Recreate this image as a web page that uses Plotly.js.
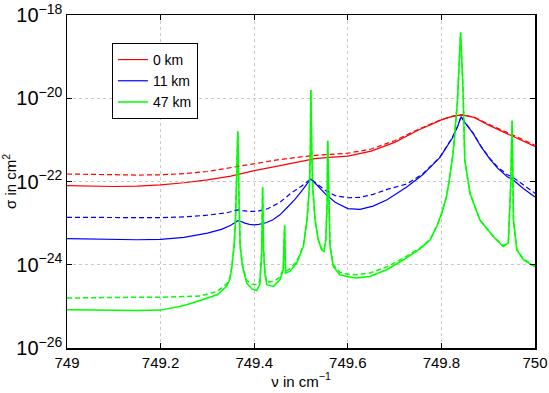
<!DOCTYPE html>
<html>
<head>
<meta charset="utf-8">
<script src="https://cdn.plot.ly/plotly-3.0.1.min.js"></script>
<style>html,body{margin:0;padding:0;background:#fff;}#chart{width:549px;height:393px;}</style>
</head>
<body>
<div id="chart"></div>
<script>
// log10 of cross section values
var nuRed = [749.0,749.05,749.1,749.15,749.2,749.25,749.3,749.35,749.4,749.45,749.5,749.53,749.56,749.6,749.65,749.7,749.75,749.8,749.825,749.844,749.87,749.9,749.95,750.0];
var redSolid = [-22.10,-22.115,-22.12,-22.11,-22.08,-22.03,-21.96,-21.87,-21.74,-21.63,-21.51,-21.45,-21.42,-21.39,-21.27,-21.06,-20.77,-20.52,-20.43,-20.40,-20.46,-20.64,-20.90,-21.16];
var redDashed = [-21.82,-21.83,-21.84,-21.845,-21.84,-21.81,-21.76,-21.67,-21.57,-21.48,-21.41,-21.37,-21.35,-21.32,-21.22,-21.02,-20.75,-20.51,-20.43,-20.40,-20.455,-20.62,-20.87,-21.13];

var nuBlue = [749.0,749.05,749.1,749.15,749.2,749.25,749.3,749.33,749.35,749.36,749.365,749.372,749.38,749.39,749.40,749.41,749.425,749.44,749.455,749.47,749.487,749.5,749.51,749.521,749.532,749.543,749.553,749.573,749.6,749.626,749.654,749.684,749.726,749.76,749.797,749.823,749.835,749.842,749.85,749.868,749.885,749.904,749.92,749.94,749.953,749.975,750.0];
var blueSolid = [-23.37,-23.385,-23.39,-23.40,-23.39,-23.34,-23.24,-23.15,-23.05,-22.98,-22.94,-22.96,-23.00,-23.03,-23.04,-23.03,-22.99,-22.92,-22.80,-22.63,-22.43,-22.25,-22.09,-21.94,-22.06,-22.20,-22.31,-22.50,-22.65,-22.67,-22.59,-22.44,-22.13,-21.84,-21.42,-20.96,-20.67,-20.44,-20.58,-20.85,-21.17,-21.47,-21.68,-21.88,-21.96,-22.17,-22.37];
var nuBlueD = [749.0,749.1,749.2,749.25,749.3,749.342,749.358,749.365,749.375,749.39,749.405,749.43,749.455,749.48,749.5,749.51,749.521,749.532,749.553,749.573,749.6,749.626,749.654,749.684,749.726,749.76,749.797,749.823,749.835,749.842,749.85,749.868,749.885,749.904,749.92,749.94,749.953,749.975,750.0];
var blueDashed = [-22.86,-22.87,-22.87,-22.85,-22.81,-22.75,-22.70,-22.68,-22.70,-22.72,-22.72,-22.65,-22.50,-22.27,-22.12,-22.03,-21.94,-22.04,-22.22,-22.34,-22.39,-22.38,-22.31,-22.19,-22.06,-21.82,-21.41,-20.95,-20.67,-20.44,-20.58,-20.84,-21.16,-21.45,-21.65,-21.83,-21.90,-22.08,-22.28];

var nuGreen = [749.000,749.050,749.100,749.150,749.200,749.250,749.284,749.321,749.341,749.348,749.352,749.357,749.360,749.363,749.365,749.367,749.370,749.375,749.384,749.395,749.405,749.412,749.416,749.418,749.420,749.423,749.427,749.441,749.455,749.462,749.465,749.467,749.476,749.491,749.505,749.513,749.518,749.520,749.521,749.523,749.525,749.530,749.537,749.544,749.549,749.553,749.556,749.557,749.559,749.562,749.569,749.583,749.598,749.619,749.647,749.683,749.719,749.754,749.776,749.790,749.801,749.811,749.818,749.825,749.834,749.838,749.841,749.846,749.850,749.861,749.872,749.882,749.897,749.911,749.932,749.943,749.948,749.951,749.954,749.961,749.975,750.000];
var greenSolid = [-25.08,-25.09,-25.10,-25.10,-25.09,-24.98,-24.86,-24.72,-24.52,-24.35,-24.08,-23.56,-22.92,-21.72,-20.80,-22.12,-23.56,-24.04,-24.44,-24.58,-24.62,-24.48,-23.71,-22.14,-23.64,-24.24,-24.48,-24.52,-24.36,-24.12,-23.06,-24.20,-24.16,-23.96,-23.56,-22.92,-22.12,-21.24,-19.80,-21.24,-22.12,-22.92,-23.40,-23.64,-23.68,-23.40,-22.44,-21.02,-22.44,-23.56,-24.04,-24.24,-24.28,-24.32,-24.28,-24.12,-23.88,-23.62,-23.40,-23.08,-22.75,-22.36,-21.88,-21.32,-20.12,-18.91,-18.42,-19.72,-21.48,-22.28,-22.62,-22.92,-23.13,-23.32,-23.56,-23.48,-22.12,-20.54,-22.92,-23.64,-23.88,-24.05];
var greenDashed = [-24.80,-24.79,-24.785,-24.78,-24.78,-24.77,-24.75,-24.64,-24.46,-24.32,-24.06,-23.55,-22.92,-21.72,-20.80,-22.12,-23.55,-24.00,-24.38,-24.46,-24.48,-24.40,-23.70,-22.14,-23.63,-24.20,-24.42,-24.40,-24.30,-24.10,-23.06,-24.16,-24.10,-23.92,-23.54,-22.92,-22.12,-21.24,-19.80,-21.24,-22.12,-22.92,-23.40,-23.62,-23.66,-23.40,-22.44,-21.02,-22.44,-23.56,-24.00,-24.18,-24.22,-24.24,-24.20,-24.05,-23.84,-23.60,-23.39,-23.08,-22.75,-22.36,-21.88,-21.32,-20.12,-18.91,-18.42,-19.72,-21.48,-22.28,-22.62,-22.92,-23.13,-23.32,-23.54,-23.46,-22.12,-20.54,-22.92,-23.62,-23.86,-24.04];

var seriesNames = ['0 km','11 km','47 km'];
var xTicks = [749,749.2,749.4,749.6,749.8,750];
var xTickText = ['749','749.2','749.4','749.6','749.8','750'];

function pw(a){return a.map(function(v){return Math.pow(10,v);});}
var FONT = '"Liberation Sans", Arial, Helvetica, sans-serif';
var W = 1.2, WG = 1.5, DASH = '5px,3px';

var traces = [
  {x:nuRed, y:pw(redSolid), name:seriesNames[0], mode:'lines', line:{color:'#ff0000', width:W}},
  {x:nuBlue, y:pw(blueSolid), name:seriesNames[1], mode:'lines', line:{color:'#0000ff', width:W}},
  {x:nuGreen, y:pw(greenSolid), name:seriesNames[2], mode:'lines', line:{color:'#00ff00', width:WG}},
  {x:nuRed, y:pw(redDashed), mode:'lines', showlegend:false, line:{color:'#ff0000', width:W, dash:DASH}},
  {x:nuBlueD, y:pw(blueDashed), mode:'lines', showlegend:false, line:{color:'#0000ff', width:W, dash:DASH}},
  {x:nuGreen, y:pw(greenDashed), mode:'lines', showlegend:false, line:{color:'#00ff00', width:WG, dash:DASH}}
];

var layout = {
  width:549, height:393,
  margin:{l:67, r:14, t:15, b:45},
  paper_bgcolor:'#fff', plot_bgcolor:'#fff',
  font:{family:FONT, color:'#000', size:15},
  showlegend:true,
  legend:{x:0.096, y:0.916, xanchor:'left', yanchor:'top', bgcolor:'#fff', bordercolor:'#000', borderwidth:1, font:{family:FONT, size:14, color:'#000'}, itemwidth:30, tracegroupgap:0},
  xaxis:{
    range:[749,750], tickvals:xTicks, ticktext:xTickText,
    ticks:'inside', ticklen:5, tickcolor:'#000', showline:true, linecolor:'#000', linewidth:1.5, mirror:'ticks',
    showgrid:true, gridcolor:'#c8c8c8', griddash:'dot', gridwidth:1, zeroline:false,
    tickfont:{family:FONT, size:15, color:'#000'},
    title:{text:'ν in cm<sup>−1</sup>', font:{family:FONT, size:15, color:'#000'}, standoff:4}
  },
  yaxis:{
    type:'log', range:[-26,-18], dtick:2, exponentformat:'power',
    ticks:'inside', ticklen:5, tickcolor:'#000', showline:true, linecolor:'#000', linewidth:1.5, mirror:'ticks',
    showgrid:true, gridcolor:'#c8c8c8', griddash:'dot', gridwidth:1, zeroline:false,
    tickfont:{family:FONT, size:16, color:'#000'},
    title:{text:'σ in cm<sup>2</sup>', font:{family:FONT, size:15, color:'#000'}, standoff:6}
  }
};

Plotly.newPlot('chart', traces, layout, {displayModeBar:false, staticPlot:true});
</script>
</body>
</html>
